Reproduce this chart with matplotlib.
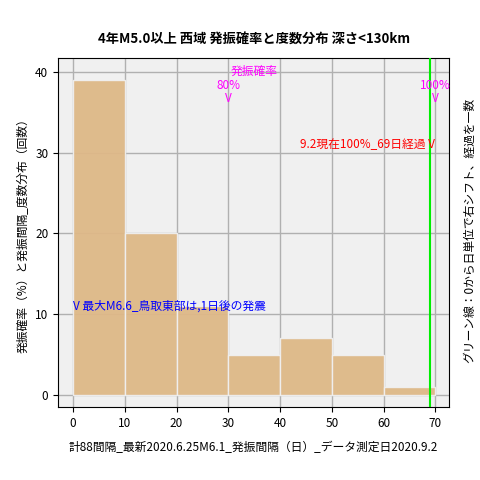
import matplotlib.pyplot as plt
import numpy as np

plt.rcParams['font.family'] = ['Noto Sans CJK JP', 'DejaVu Sans']

bin_edges = [0, 10, 20, 30, 40, 50, 60, 70]
counts = [39, 20, 11, 5, 7, 5, 1]
green_x = 69

fig = plt.figure(figsize=(4.8, 4.8), dpi=100)
ax = fig.add_axes([0.121, 0.152, 0.815, 0.727])
ax.set_facecolor('#f0f0f0')
ax.bar(bin_edges[:-1], counts, width=10, align='edge', color='#deb887', edgecolor='#f0f0f0', linewidth=1, alpha=0.95, zorder=2)
ax.grid(True, color='#b0b0b0', linewidth=1, zorder=0)
ax.set_axisbelow(True)
ax.axvline(green_x, color='#00ee00', linewidth=1.5, zorder=3)

ax.set_xlim(-2.9, 72.7)
ax.set_ylim(-1.5, 41.7)
ax.set_xticks(range(0, 71, 10))
ax.set_yticks(range(0, 41, 10))
ax.tick_params(labelsize=8.5)

ax.text(35, 40, '発振確率', color='magenta', fontsize=8.5, ha='center', va='center')
ax.text(30, 38.3, '80%', color='magenta', fontsize=8.5, ha='center', va='center')
ax.text(30, 36.7, 'V', color='magenta', fontsize=8.5, ha='center', va='center')
ax.text(70, 38.3, '100%', color='magenta', fontsize=8.5, ha='center', va='center')
ax.text(70, 36.7, 'V', color='magenta', fontsize=8.5, ha='center', va='center')
ax.text(70, 31, '9.2現在100%_69日経過 V', color='red', fontsize=8.5, ha='right', va='center')
ax.text(0, 11, 'V 最大M6.6_鳥取東部は,1日後の発震', color='blue', fontsize=8.5, ha='left', va='center')

ax.set_title('4年M5.0以上 西域 発振確率と度数分布 深さ<130km', fontsize=9.5, fontweight='bold', pad=10)
ax.set_xlabel('計88間隔_最新2020.6.25M6.1_発振間隔（日）_データ測定日2020.9.2', fontsize=8.5, labelpad=8)
ax.set_ylabel('発振確率（%）と発振間隔_度数分布（回数）', fontsize=8.5)
fig.text(0.978, 0.52, 'グリーン線：0から日単位で右シフト、経過を一数', rotation=90, fontsize=8.5, ha='center', va='center')

fig.savefig('out.png', dpi=100)
